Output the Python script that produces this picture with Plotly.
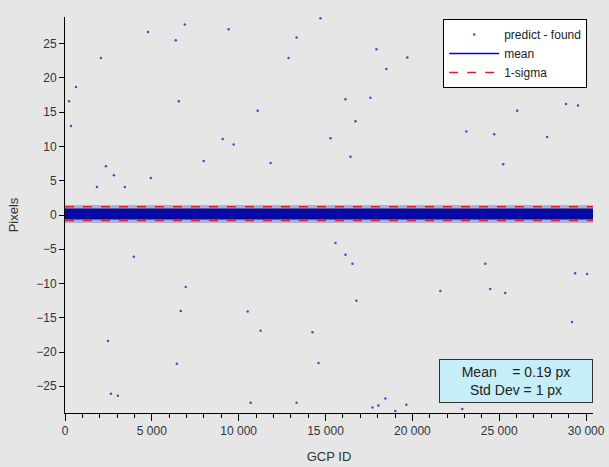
import plotly.graph_objects as go

# ---- data ----
# outlier residuals (GCP ID, pixels)
out_x = [230, 345, 632, 2069, 4770, 6379, 6896, 9425, 13333, 12873, 14712,
         17931, 19712, 18505, 17586, 16149, 16724, 15287, 16436, 6552, 11092,
         9080, 9712, 11839, 7988, 4942, 2356, 2816, 3448, 1839, 23908, 27815,
         28850, 29540, 27758, 26034, 24712, 23103, 25229,
         3965, 2471, 2644, 3046, 6954, 6666, 6437, 10517, 10690, 11264, 13333,
         14597, 14252, 15574, 16149, 16781, 16551, 17701, 18046, 18448, 19023,
         19655, 21609, 22873, 24195, 24482, 25344, 27068, 27643, 28505, 29194,
         29367, 30057]
out_y = [16.6, 13.0, 18.7, 22.9, 26.7, 25.5, 27.8, 27.1, 25.9, 22.9, 28.7,
         24.2, 23.0, 21.3, 17.1, 16.9, 13.7, 11.2, 8.5, 16.6, 15.2,
         11.1, 10.3, 7.6, 7.9, 5.4, 7.1, 5.8, 4.1, 4.1, 26.1, 26.4,
         16.2, 16.0, 11.4, 15.2, 11.8, 12.2, 7.4,
         -6.1, -18.4, -26.1, -26.4, -10.5, -14.0, -21.7, -14.1, -27.4, -16.9, -27.4,
         -21.6, -17.1, -4.1, -5.8, -12.5, -7.1, -28.1, -27.8, -26.8, -28.6,
         -27.7, -11.1, -28.3, -7.1, -10.8, -11.4, -22.7, -22.9, -26.8, -15.6,
         -8.5, -8.6]

# dense band of residuals around zero (extent of the bulk of points)
band_x = [0, 30400]
core_low, core_high = -0.65, 0.95
fuzz_low, fuzz_high = -1.15, 1.45

mean_px = 0.19
std_px = 1.0

x_range = [0, 30400]
y_range = [-28.9, 28.9]

fig = go.Figure()

# scattered points
fig.add_trace(go.Scatter(x=out_x, y=out_y, mode="markers", name="predict - found",
                         marker=dict(size=2.5, color="#4a4ac8")))

# light fringe of the band
fig.add_trace(go.Scatter(x=band_x, y=[fuzz_low, fuzz_low], mode="lines",
                         line=dict(width=0), showlegend=False, hoverinfo="skip"))
fig.add_trace(go.Scatter(x=band_x, y=[fuzz_high, fuzz_high], mode="lines",
                         line=dict(width=0), fill="tonexty",
                         fillcolor="rgba(50,50,190,0.3)",
                         showlegend=False, hoverinfo="skip"))
# dark core of the band
fig.add_trace(go.Scatter(x=band_x, y=[core_low, core_low], mode="lines",
                         line=dict(width=0), showlegend=False, hoverinfo="skip"))
fig.add_trace(go.Scatter(x=band_x, y=[core_high, core_high], mode="lines",
                         line=dict(width=0), fill="tonexty",
                         fillcolor="#0a0a98",
                         showlegend=False, hoverinfo="skip"))

# mean line
fig.add_trace(go.Scatter(x=band_x, y=[mean_px, mean_px], mode="lines", name="mean",
                         line=dict(color="#0000ff", width=1.5)))
# 1-sigma lines
fig.add_trace(go.Scatter(x=band_x, y=[mean_px + std_px] * 2, mode="lines",
                         name="1-sigma",
                         line=dict(color="#e02020", width=1.5, dash="dash")))
fig.add_trace(go.Scatter(x=band_x, y=[mean_px - std_px] * 2, mode="lines",
                         showlegend=False,
                         line=dict(color="#e02020", width=1.5, dash="dash")))

fig.update_layout(
    width=609, height=467,
    margin=dict(l=65, r=16, t=17, b=54),
    paper_bgcolor="#e6e6e6", plot_bgcolor="#e6e6e6",
    font=dict(family="Liberation Sans, Arial, sans-serif", size=12, color="#333333"),
    separators=". ",
    showlegend=True,
    legend=dict(x=0.989, y=0.995, xanchor="right", yanchor="top",
                bgcolor="white", bordercolor="black", borderwidth=1,
                font=dict(size=12, color="#222222"),
                traceorder="normal",
                tracegroupgap=0, itemwidth=50),
)
fig.update_xaxes(range=x_range, showgrid=False, zeroline=False, automargin=False,
                 showline=True, linecolor="black", linewidth=1,
                 ticks="outside", ticklen=7, tickcolor="black",
                 dtick=5000, tickformat=",d",
                 minor=dict(ticks="outside", ticklen=4, dtick=1000, tickcolor="black"),
                 title=dict(text="GCP ID", font=dict(size=13, color="#333333"),
                            standoff=14))
fig.update_yaxes(range=y_range, showgrid=False, zeroline=False, automargin=False,
                 showline=True, linecolor="black", linewidth=1,
                 ticks="outside", ticklen=5, tickcolor="black",
                 dtick=5,
                 title=dict(text="Pixels", font=dict(size=13, color="#333333"),
                            standoff=14))

fig.add_annotation(xref="paper", yref="paper", x=1.0, y=0.025,
                   xanchor="right", yanchor="bottom",
                   text="Mean    = 0.19 px<br>Std Dev = 1 px",
                   showarrow=False, align="center",
                   font=dict(size=14, color="#222222"),
                   bgcolor="#c6eef8", bordercolor="#333333", borderwidth=1,
                   width=150, height=40)

fig.write_html("out.html")
